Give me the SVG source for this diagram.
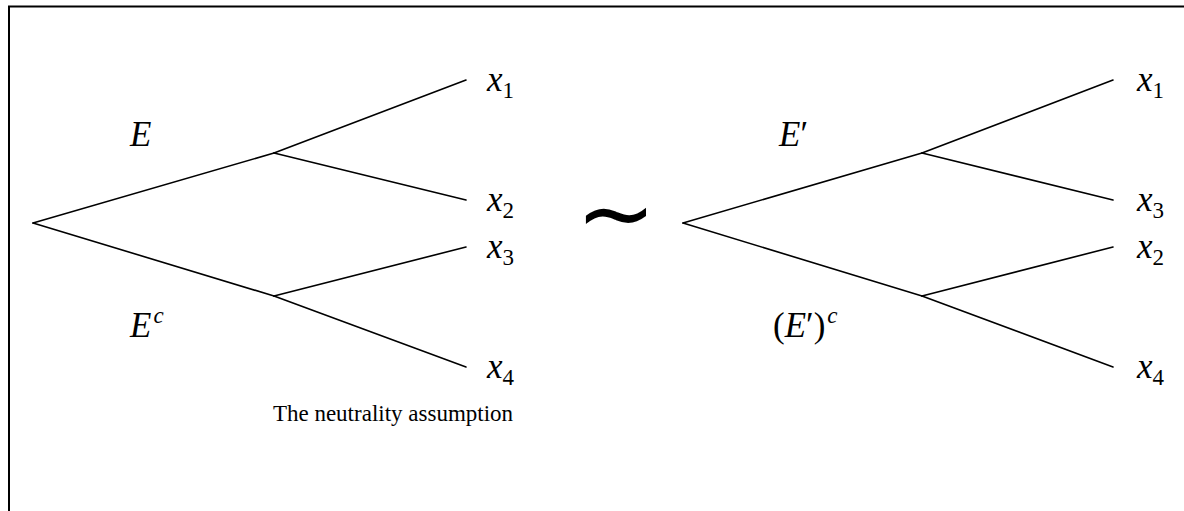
<svg xmlns="http://www.w3.org/2000/svg" width="1184" height="511" viewBox="0 0 1184 511">
<style>
.m{font-family:"Liberation Serif",serif;font-style:italic;font-size:35px;fill:#000}
.s{font-family:"Liberation Serif",serif;font-size:23px;fill:#000}
.sup{font-family:"Liberation Serif",serif;font-style:italic;font-size:23px;fill:#000}
.r{font-family:"Liberation Serif",serif;font-size:35px;fill:#000}
.cap{font-family:"Liberation Serif",serif;font-size:23px;fill:#000}
.e{stroke:#000;stroke-width:1.6;fill:none;stroke-linecap:round}
</style>
<rect x="9" y="6.5" width="1200" height="520" fill="none" stroke="#000" stroke-width="2"/>
<g id="connectors">
<line class="e" x1="33" y1="223" x2="274" y2="153"/>
<line class="e" x1="33" y1="223" x2="274" y2="296"/>
<line class="e" x1="274" y1="153" x2="466" y2="80"/>
<line class="e" x1="274" y1="153" x2="466" y2="200"/>
<line class="e" x1="274" y1="296" x2="466" y2="247"/>
<line class="e" x1="274" y1="296" x2="466" y2="367"/>
<line class="e" x1="683" y1="223" x2="922" y2="153"/>
<line class="e" x1="683" y1="223" x2="922" y2="296"/>
<line class="e" x1="922" y1="153" x2="1113" y2="80"/>
<line class="e" x1="922" y1="153" x2="1113" y2="200"/>
<line class="e" x1="922" y1="296" x2="1113" y2="247"/>
<line class="e" x1="922" y1="296" x2="1113" y2="367"/>
</g>
<g id="left-labels">
<text class="m" x="130" y="146">E</text>
<text x="130" y="337"><tspan class="m">E</tspan><tspan class="sup" dx="2" dy="-14">c</tspan></text>
<text x="487" y="91"><tspan class="m">x</tspan><tspan class="s" dy="7">1</tspan></text>
<text x="487" y="211"><tspan class="m">x</tspan><tspan class="s" dy="7">2</tspan></text>
<text x="487" y="258"><tspan class="m">x</tspan><tspan class="s" dy="7">3</tspan></text>
<text x="487" y="378"><tspan class="m">x</tspan><tspan class="s" dy="7">4</tspan></text>
</g>
<g id="sim">
<text x="616" y="246" text-anchor="middle" style="font-family:'DejaVu Sans',sans-serif;font-size:96px">∼</text>
</g>
<g id="right-labels">
<text x="779" y="146"><tspan class="m">E</tspan><tspan class="r">′</tspan></text>
<text x="773" y="337"><tspan class="r">(</tspan><tspan class="m">E</tspan><tspan class="r">′)</tspan><tspan class="sup" dx="2" dy="-14">c</tspan></text>
<text x="1137" y="91"><tspan class="m">x</tspan><tspan class="s" dy="7">1</tspan></text>
<text x="1137" y="211"><tspan class="m">x</tspan><tspan class="s" dy="7">3</tspan></text>
<text x="1137" y="258"><tspan class="m">x</tspan><tspan class="s" dy="7">2</tspan></text>
<text x="1137" y="378"><tspan class="m">x</tspan><tspan class="s" dy="7">4</tspan></text>
</g>
<g id="caption">
<text class="cap" x="393" y="421" text-anchor="middle">The neutrality assumption</text>
</g>
</svg>
